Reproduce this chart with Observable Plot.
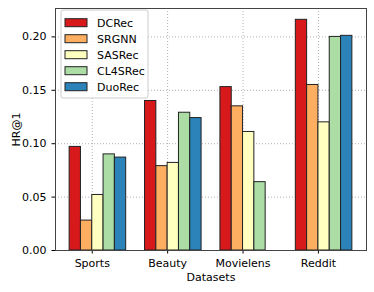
<!DOCTYPE html>
<html><head><meta charset="utf-8">
<script src="https://cdn.jsdelivr.net/npm/d3@7"></script>
<script src="https://cdn.jsdelivr.net/npm/@observablehq/plot@0.6"></script>
<style>body{margin:0;background:#fff}</style>
</head><body><div id="chart"></div>
<script>
const datasets = ["Sports", "Beauty", "Movielens", "Reddit"];
const methods = ["DCRec", "SRGNN", "SASRec", "CL4SRec", "DuoRec"];
const DCRec   = [0.097, 0.140, 0.153, 0.216];
const SRGNN   = [0.028, 0.079, 0.135, 0.155];
const SASRec  = [0.052, 0.082, 0.111, 0.120];
const CL4SRec = [0.090, 0.129, 0.064, 0.200];
const DuoRec  = [0.087, 0.124, null, 0.201];
const colors = ["#d7191c", "#fdae61", "#ffffbf", "#abdda4", "#2b83ba"];
const yTicks = [0, 0.05, 0.10, 0.15, 0.20];

const series = [DCRec, SRGNN, SASRec, CL4SRec, DuoRec];
const rows = [];
methods.forEach((m, i) => series[i].forEach((v, k) => {
  if (v != null) rows.push({dataset: datasets[k], k, i, method: m, value: v});
}));

const barW = 0.15;
const chart = Plot.plot({
  width: 374, height: 292,
  marginLeft: 55, marginRight: 8, marginTop: 8, marginBottom: 42,
  style: {fontFamily: "DejaVu Sans", fontSize: "11px", background: "#fff", color: "#000"},
  x: {domain: [-0.4875, 3.6375], ticks: [0, 1, 2, 3], tickFormat: k => datasets[k],
      label: "Datasets", labelAnchor: "center", labelArrow: "none", tickSize: 3.5, labelOffset: 30.5},
  y: {domain: [0, 0.2266], ticks: yTicks, tickFormat: d3.format(".2f"),
      label: "HR@1", labelAnchor: "center", labelArrow: "none", tickSize: 3.5, labelOffset: 43},
  color: {domain: methods, range: colors},
  marks: [
    Plot.gridX([0, 1, 2, 3], {stroke: "#b0b0b0", strokeOpacity: 1, strokeDasharray: "1,2"}),
    Plot.gridY(yTicks, {stroke: "#b0b0b0", strokeOpacity: 1, strokeDasharray: "1,2"}),
    Plot.rectY(rows, {
      x1: d => d.k + (d.i - 2) * barW,
      x2: d => d.k + (d.i - 1) * barW,
      y1: 0, y2: "value", fill: "method", stroke: "#222", strokeWidth: 1
    }),
    Plot.frame({stroke: "#444"})
  ]
});
document.getElementById("chart").appendChild(chart);

// legend inside the plot area
const svg = d3.select(chart);
const lg = svg.append("g").attr("transform", "translate(61,10)");
lg.append("rect").attr("width", 87).attr("height", 88).attr("rx", 2)
  .attr("fill", "#fff").attr("fill-opacity", 0.85).attr("stroke", "#ccc");
methods.forEach((m, i) => {
  const g = lg.append("g").attr("transform", `translate(4,${12.7 + i * 16})`);
  g.append("rect").attr("x", 0).attr("y", -4).attr("width", 22).attr("height", 8)
    .attr("fill", colors[i]).attr("stroke", "#222").attr("stroke-width", 1);
  g.append("text").attr("x", 32).attr("y", 0).attr("dy", "0.35em")
    .attr("text-anchor", "start")
    .attr("font-family", "DejaVu Sans").attr("font-size", 11).attr("fill", "#000").text(m);
});
</script></body></html>
